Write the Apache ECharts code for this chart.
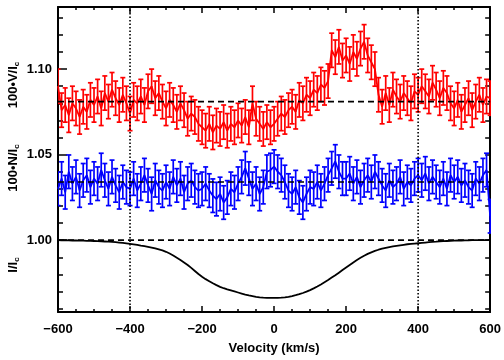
<!DOCTYPE html>
<html>
<head>
<meta charset="utf-8">
<script src="https://cdn.jsdelivr.net/npm/echarts@6/dist/echarts.min.js"></script>
<style>html,body{margin:0;padding:0;background:#fff;}#c{width:504px;height:360px;}</style>
</head>
<body>
<div id="c"></div>
<script>
// Velocity grid (km/s), step 10
var velocity = [];
for (var k = -600; k <= 600; k += 10) velocity.push(k);

// Stokes V (100*V/Ic, offset) — red
var redV = [
  1.090, 1.076, 1.079, 1.073, 1.080, 1.077, 1.072, 1.078, 1.075, 1.082,
  1.079, 1.084, 1.077, 1.086, 1.081, 1.088, 1.083, 1.079, 1.085, 1.080,
  1.074, 1.082, 1.080, 1.084, 1.079, 1.087, 1.090, 1.083, 1.086, 1.081,
  1.077, 1.082, 1.079, 1.075, 1.080, 1.076, 1.071, 1.074, 1.072, 1.068,
  1.066, 1.064, 1.068, 1.063, 1.067, 1.065, 1.069, 1.064, 1.068, 1.066,
  1.070, 1.067, 1.072, 1.066, 1.080, 1.071, 1.068, 1.065, 1.069, 1.066,
  1.068, 1.071, 1.074, 1.072, 1.076, 1.078, 1.075, 1.082, 1.080, 1.085,
  1.083, 1.088, 1.086, 1.091, 1.089, 1.093, 1.111, 1.107, 1.113, 1.105,
  1.108, 1.103, 1.110, 1.106, 1.112, 1.116, 1.108, 1.104, 1.100, 1.085,
  1.078, 1.086, 1.079, 1.088, 1.084, 1.081, 1.086, 1.083, 1.080, 1.087,
  1.085, 1.090, 1.087, 1.084, 1.092, 1.088, 1.083, 1.089, 1.086, 1.080,
  1.077, 1.082, 1.075, 1.079, 1.083, 1.076, 1.081, 1.085, 1.079, 1.084,
  1.083
];
// Null profile (100*N/Ic, offset) — blue
var blueN = [
  1.030, 1.036, 1.028, 1.040, 1.033, 1.037, 1.029, 1.035, 1.038, 1.031,
  1.036, 1.033, 1.041, 1.035, 1.030, 1.037, 1.032, 1.028, 1.034, 1.031,
  1.030, 1.036, 1.029, 1.033, 1.038, 1.032, 1.027, 1.035, 1.031, 1.029,
  1.034, 1.030, 1.037, 1.032, 1.036, 1.028, 1.033, 1.035, 1.031, 1.029,
  1.030, 1.033, 1.029, 1.026, 1.024, 1.027, 1.022, 1.025, 1.030, 1.028,
  1.033, 1.037, 1.042, 1.036, 1.030, 1.033, 1.027, 1.031, 1.040, 1.041,
  1.043, 1.040, 1.038, 1.034, 1.029, 1.027, 1.031, 1.025, 1.022, 1.027,
  1.031, 1.030, 1.034, 1.029, 1.033, 1.038, 1.042, 1.046, 1.040, 1.036,
  1.036, 1.039, 1.033, 1.037, 1.031, 1.035, 1.038, 1.034, 1.040, 1.036,
  1.032, 1.029, 1.035, 1.031, 1.033, 1.037, 1.030, 1.034, 1.032, 1.036,
  1.038, 1.035, 1.039, 1.033, 1.037, 1.034, 1.031, 1.036, 1.030, 1.038,
  1.034, 1.037, 1.032, 1.035, 1.031, 1.029, 1.036, 1.033, 1.038, 1.041,
  1.014
];
// Intensity (I/Ic) — black
var intensity = [
  1.0000, 0.9999, 1.0000, 0.9999, 0.9998, 0.9998, 0.9997, 0.9997, 0.9996, 0.9996,
  0.9995, 0.9994, 0.9993, 0.9992, 0.9991, 0.9990, 0.9988, 0.9986, 0.9984, 0.9981,
  0.9978, 0.9975, 0.9972, 0.9968, 0.9965, 0.9961, 0.9957, 0.9952, 0.9946, 0.9940,
  0.9932, 0.9922, 0.9910, 0.9897, 0.9884, 0.9870, 0.9855, 0.9838, 0.9820, 0.9802,
  0.9786, 0.9772, 0.9760, 0.9748, 0.9737, 0.9727, 0.9719, 0.9712, 0.9706, 0.9700,
  0.9694, 0.9688, 0.9682, 0.9677, 0.9673, 0.9669, 0.9666, 0.9664, 0.9663, 0.9663,
  0.9663, 0.9663, 0.9664, 0.9666, 0.9669, 0.9673, 0.9678, 0.9684, 0.9691, 0.9699,
  0.9708, 0.9718, 0.9729, 0.9741, 0.9754, 0.9767, 0.9781, 0.9795, 0.9810, 0.9825,
  0.9840, 0.9855, 0.9870, 0.9884, 0.9897, 0.9909, 0.9920, 0.9929, 0.9937, 0.9944,
  0.9950, 0.9955, 0.9959, 0.9963, 0.9967, 0.9970, 0.9973, 0.9976, 0.9978, 0.9980,
  0.9982, 0.9984, 0.9986, 0.9988, 0.9990, 0.9991, 0.9993, 0.9994, 0.9995, 0.9996,
  0.9997, 0.9998, 0.9998, 0.9999, 0.9999, 1.0000, 1.0000, 1.0000, 1.0000, 1.0000,
  1.0000
];
var redErr = 0.0100;
var blueErr = 0.0098;
var refLevels = [1.081, 1.034, 1.000];   // dashed reference lines
var vLines = [-400, 400];                  // dotted vertical lines
var yMajor = [1.00, 1.05, 1.10];
var yMinor = [0.96, 0.97, 0.98, 0.99, 1.01, 1.02, 1.03, 1.04, 1.06, 1.07, 1.08, 1.09, 1.11, 1.12, 1.13];
var yAll = [0.96, 0.97, 0.98, 0.99, 1.00, 1.01, 1.02, 1.03, 1.04, 1.05, 1.06, 1.07, 1.08, 1.09, 1.10, 1.11, 1.12, 1.13];
var yMin = 0.958, yMax = 1.1363;

function pairs(ys) { return velocity.map(function (v, i) { return [v, ys[i]]; }); }
function errData(ys, e) { return velocity.map(function (v, i) { return [v, ys[i] - e, ys[i] + e]; }); }
function errRender(color) {
  return function (params, api) {
    var v = api.value(0);
    var p1 = api.coord([v, api.value(1)]);
    var p2 = api.coord([v, api.value(2)]);
    var c = 2.5;
    var st = { stroke: color, lineWidth: 1.7 };
    return { type: 'group', children: [
      { type: 'line', shape: { x1: p1[0], y1: p1[1], x2: p2[0], y2: p2[1] }, style: st },
      { type: 'line', shape: { x1: p1[0] - c, y1: p1[1], x2: p1[0] + c, y2: p1[1] }, style: st },
      { type: 'line', shape: { x1: p2[0] - c, y1: p2[1], x2: p2[0] + c, y2: p2[1] }, style: st }
    ]};
  };
}

var FONT = 'Liberation Sans';
var lblStyle = { color: '#000', fontFamily: FONT, fontWeight: 'bold', fontSize: 13 };
function axLine() { return { show: true, onZero: false, lineStyle: { color: '#000', width: 2 } }; }

var chart = echarts.init(document.getElementById('c'), null, { renderer: 'canvas' });
var series = [];
series.push({ type: 'custom', data: errData(redV, redErr), renderItem: errRender('#ff0000'), z: 3, animation: false, clip: true, silent: true });
series.push({ type: 'line', data: pairs(redV), symbol: 'none', z: 3, lineStyle: { color: '#ff0000', width: 1.8 }, animation: false, silent: true });
series.push({ type: 'custom', data: errData(blueN, blueErr), renderItem: errRender('#0000ff'), z: 3, animation: false, clip: true, silent: true });
series.push({ type: 'line', data: pairs(blueN), symbol: 'none', z: 3, lineStyle: { color: '#0000ff', width: 1.8 }, animation: false, silent: true });
series.push({ type: 'line', data: pairs(intensity), symbol: 'none', z: 4, lineStyle: { color: '#000', width: 1.8 }, animation: false, silent: true });
refLevels.forEach(function (m) {
  series.push({ type: 'line', data: [[-600, m], [600, m]], symbol: 'none', z: 5,
    lineStyle: { color: '#000', width: 1.6, type: [6, 4] }, animation: false, silent: true });
});
vLines.forEach(function (x) {
  series.push({ type: 'line', data: [[x, yMin], [x, yMax]], symbol: 'none', z: 5,
    lineStyle: { color: '#000', width: 1.6, type: [1.5, 2] }, animation: false, silent: true });
});

var rich = { a: { fontFamily: FONT, fontWeight: 'bold', fontSize: 13, lineHeight: 16, fill: '#000' },
             s: { fontFamily: FONT, fontWeight: 'bold', fontSize: 8, verticalAlign: 'bottom', lineHeight: 16, fill: '#000' } };

var option = {
  animation: false,
  backgroundColor: '#fff',
  grid: { left: 58, right: 11, top: 7, bottom: 42, containLabel: false },
  xAxis: [
    { type: 'value', position: 'bottom', min: -600, max: 600, interval: 200,
      axisLine: axLine(), splitLine: { show: false },
      axisTick: { show: true, inside: true, length: 6, lineStyle: { color: '#000', width: 1.5 } },
      minorTick: { show: true, splitNumber: 4, length: 3, lineStyle: { color: '#000', width: 1.5 } },
      axisLabel: Object.assign({ margin: 11, formatter: function (v) { return (v < 0 ? '\u2212' : '') + Math.abs(v); } }, lblStyle),
      name: 'Velocity (km/s)', nameLocation: 'middle', nameGap: 30,
      nameTextStyle: { color: '#000', fontFamily: FONT, fontWeight: 'bold', fontSize: 13 } },
    { type: 'value', position: 'top', min: -600, max: 600, interval: 200,
      axisLine: axLine(), splitLine: { show: false },
      axisTick: { show: true, inside: true, length: 6, lineStyle: { color: '#000', width: 1.5 } },
      minorTick: { show: true, splitNumber: 4, length: 3, lineStyle: { color: '#000', width: 1.5 } },
      axisLabel: { show: false } }
  ],
  yAxis: [
    { type: 'value', position: 'left', min: yMin, max: yMax, offset: 0,
      axisLine: axLine(), splitLine: { show: false },
      axisTick: { show: true, inside: true, length: 9, customValues: yMajor, lineStyle: { color: '#000', width: 1.5 } },
      axisLabel: Object.assign({ margin: 6, customValues: yMajor, formatter: function (v) { return v.toFixed(2); } }, lblStyle) },
    { type: 'value', position: 'left', min: yMin, max: yMax, offset: 0,
      axisLine: { show: false, onZero: false }, splitLine: { show: false },
      axisTick: { show: true, inside: true, length: 5, customValues: yMinor, lineStyle: { color: '#000', width: 1.5 } },
      axisLabel: { show: false } },
    { type: 'value', position: 'right', min: yMin, max: yMax, offset: 0,
      axisLine: axLine(), splitLine: { show: false },
      axisTick: { show: true, inside: true, length: 5, customValues: yAll, lineStyle: { color: '#000', width: 1.5 } },
      axisLabel: { show: false } }
  ],
  graphic: [
    { type: 'text', x: 13, y: 85, rotation: Math.PI / 2, style: { text: '{a|100•V/I}{s|c}', align: 'center', verticalAlign: 'middle', rich: rich } },
    { type: 'text', x: 13, y: 168, rotation: Math.PI / 2, style: { text: '{a|100•N/I}{s|c}', align: 'center', verticalAlign: 'middle', rich: rich } },
    { type: 'text', x: 13, y: 265, rotation: Math.PI / 2, style: { text: '{a|I/I}{s|c}', align: 'center', verticalAlign: 'middle', rich: rich } }
  ],
  series: series
};
chart.setOption(option);
</script>
</body>
</html>
